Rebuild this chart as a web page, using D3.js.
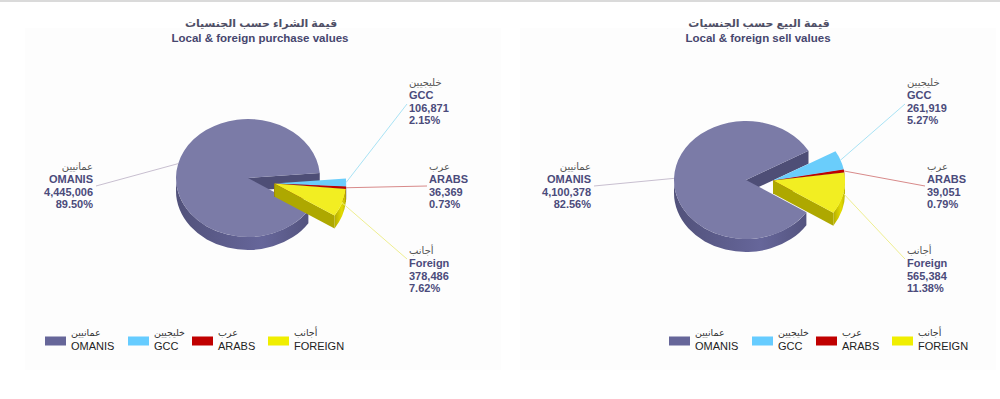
<!DOCTYPE html>
<html>
<head>
<meta charset="utf-8">
<script src="https://cdn.jsdelivr.net/npm/d3@7"></script>
<style>
  body { margin: 0; background: #fff; }
  svg text { font-family: "Liberation Sans", Arial, "DejaVu Sans", sans-serif; }
</style>
</head>
<body>
<svg width="1000" height="399"></svg>
<script>
// data
const categories = ['OMANIS', 'GCC', 'ARABS', 'FOREIGN'];
const categoriesAr = ['عمانيين', 'خليجيين', 'عرب', 'أجانب'];
const labelNames = ['OMANIS', 'GCC', 'ARABS', 'Foreign'];
const purchaseValues = [4445006, 106871, 36369, 378486];
const sellValues = [4100378, 261919, 39051, 565384];
const titlesAr = ['قيمة الشراء حسب الجنسيات', 'قيمة البيع حسب الجنسيات'];
const titlesEn = ['Local & foreign purchase values', 'Local & foreign sell values'];

// layout
const rx = 72, ry = 59, depth = 13, explode = 27;
const startDeg = 123;
const panels = [
  { values: purchaseValues, cx: 248, cy: 178, x0: 25, legendX: 45 },
  { values: sellValues, cx: 746, cy: 180, x0: 520, legendX: 669 }
];
// label anchor (dx from centre, baseline of first line, anchor) and leader end
const labelPos = [[-155, 170, 'end'], [161, 86, 'start'], [181, 170, 'start'], [161, 254, 'start']];
const leaderEnd = [[-152, 186], [159, 104], [179, 186], [159, 259]];
const legendOffsets = [0, 83, 147, 223];

const topColor = d3.scaleOrdinal().domain(categories).range(['#7b7ba7', '#6acdfb', '#c00000', '#f2ee22']);
const sideColor = d3.scaleOrdinal().domain(categories).range(['#5a5a88', '#4aa8d8', '#7a0000', '#c9c200']);
const lineColor = d3.scaleOrdinal().domain(categories).range(['#c8bfd0', '#a9e3f5', '#d88a8a', '#eeee90']);
const swatchColor = d3.scaleOrdinal().domain(categories).range(['#666699', '#66ccff', '#c00000', '#f0ee00']);
const fmt = d3.format(',');
const pct = d3.format('.2%');

const svg = d3.select('svg');

// top border line
svg.append('rect')
  .attr('x', 0).attr('y', 0).attr('width', 1000).attr('height', 2)
  .attr('fill', '#dadada');

// side gradients
const defs = svg.append('defs');
categories.forEach((c, i) => {
  const g = defs.append('linearGradient')
    .attr('id', 'side' + i)
    .attr('x1', '0').attr('x2', '1').attr('y1', '0').attr('y2', '0');
  const base = d3.color(sideColor(c));
  g.append('stop').attr('offset', '0').attr('stop-color', base.darker(0.3));
  g.append('stop').attr('offset', '0.65').attr('stop-color', base.brighter(0.35));
  g.append('stop').attr('offset', '1').attr('stop-color', base.darker(0.2));
});

function pt(a) {
  return [rx * Math.sin(a), -ry * Math.cos(a)];
}
function topPath(a0, a1) {
  const p0 = pt(a0), p1 = pt(a1);
  const large = (a1 - a0) > Math.PI ? 1 : 0;
  return `M0,0L${p0}A${rx},${ry} 0 ${large} 1 ${p1}Z`;
}
function wallPath(a0, a1) {
  const p0 = pt(a0), p1 = pt(a1);
  const large = (a1 - a0) > Math.PI ? 1 : 0;
  return `M${p0}A${rx},${ry} 0 ${large} 1 ${p1}L${p1[0]},${p1[1] + depth}` +
    `A${rx},${ry} 0 ${large} 0 ${p0[0]},${p0[1] + depth}Z`;
}
function facePath(a) {
  const p = pt(a);
  return `M0,0L${p}L${p[0]},${p[1] + depth}L0,${depth}Z`;
}

panels.forEach((panel, pi) => {
  const total = d3.sum(panel.values);

  // faint panel background
  svg.append('rect')
    .attr('x', panel.x0).attr('y', 28)
    .attr('width', 476).attr('height', 342)
    .attr('fill', '#fdfdfd');

  // titles
  svg.append('text')
    .attr('x', panel.cx + 13).attr('y', 27)
    .attr('text-anchor', 'middle')
    .attr('font-size', '11px')
    .attr('font-weight', 'bold')
    .attr('fill', '#4f4f66')
    .text(titlesAr[pi]);
  svg.append('text')
    .attr('x', panel.cx + 12).attr('y', 42)
    .attr('text-anchor', 'middle')
    .attr('font-size', '11.5px')
    .attr('font-weight', 'bold')
    .attr('fill', '#46466e')
    .text(titlesEn[pi]);

  const start = startDeg * Math.PI / 180;
  const arcs = d3.pie().sort(null).value(d => d)
    .startAngle(start).endAngle(start + 2 * Math.PI)(panel.values);

  // exploded slices share one offset along the group bisector
  const mid = (arcs[1].startAngle + arcs[3].endAngle) / 2;
  const off = [explode * Math.sin(mid), -explode * Math.cos(mid) * ry / rx];

  const g = svg.append('g');

  arcs.forEach((d, i) => {
    const c = categories[i];
    const o = i === 0 ? [0, 0] : off;
    const sg = g.append('g')
      .attr('transform', `translate(${panel.cx + o[0]},${panel.cy + o[1]})`);

    // radial faces
    if (Math.sin(d.startAngle) < 0) {
      sg.append('path').attr('d', facePath(d.startAngle)).attr('fill', d3.color(sideColor(c)).darker(0.4));
    }
    if (Math.sin(d.endAngle) > 0) {
      sg.append('path').attr('d', facePath(d.endAngle)).attr('fill', d3.color(sideColor(c)).darker(0.4));
    }
    // outer wall, front half only
    for (let k = 0; k < 3; k++) {
      const lo = Math.max(d.startAngle, Math.PI / 2 + 2 * Math.PI * k);
      const hi = Math.min(d.endAngle, 3 * Math.PI / 2 + 2 * Math.PI * k);
      if (hi > lo) {
        sg.append('path').attr('d', wallPath(lo, hi)).attr('fill', `url(#side${i})`);
      }
    }
    // top face
    sg.append('path').attr('d', topPath(d.startAngle, d.endAngle)).attr('fill', topColor(c));
  });

  // leader lines and labels
  arcs.forEach((d, i) => {
    const c = categories[i];
    const o = i === 0 ? [0, 0] : off;
    const m = (d.startAngle + d.endAngle) / 2;
    const p = pt(m);
    const end = leaderEnd[i];
    svg.append('line')
      .attr('x1', panel.cx + o[0] + p[0]).attr('y1', panel.cy + o[1] + p[1])
      .attr('x2', panel.cx + end[0]).attr('y2', end[1])
      .attr('stroke', lineColor(c))
      .attr('stroke-width', 1);

    const lp = labelPos[i];
    const t = svg.append('text')
      .attr('x', panel.cx + lp[0]).attr('y', lp[1])
      .attr('text-anchor', lp[2])
      .attr('fill', '#4b4b7b')
      .attr('font-weight', 'bold')
      .attr('font-size', '11px');
    const lines = [labelNames[i], fmt(panel.values[i]), pct(panel.values[i] / total)];
    svg.append('text')
      .attr('x', panel.cx + lp[0]).attr('y', lp[1])
      .attr('text-anchor', lp[2])
      .attr('fill', '#555')
      .attr('font-size', '10px')
      .text(categoriesAr[i]);
    lines.forEach((s, j) => {
      t.append('tspan')
        .attr('x', panel.cx + lp[0])
        .attr('y', lp[1] + 12.8 * (j + 1))
        .text(s);
    });
  });

  // legend
  categories.forEach((c, i) => {
    const lx = panel.legendX + legendOffsets[i];
    svg.append('rect')
      .attr('x', lx).attr('y', 336.5)
      .attr('width', 21).attr('height', 9)
      .attr('fill', swatchColor(c));
    svg.append('text')
      .attr('x', lx + 26).attr('y', 336)
      .attr('font-size', '9.5px')
      .attr('fill', '#333')
      .text(categoriesAr[i]);
    svg.append('text')
      .attr('x', lx + 26).attr('y', 350)
      .attr('font-size', '11px')
      .attr('fill', '#222')
      .text(c);
  });
});
</script>
</body>
</html>
